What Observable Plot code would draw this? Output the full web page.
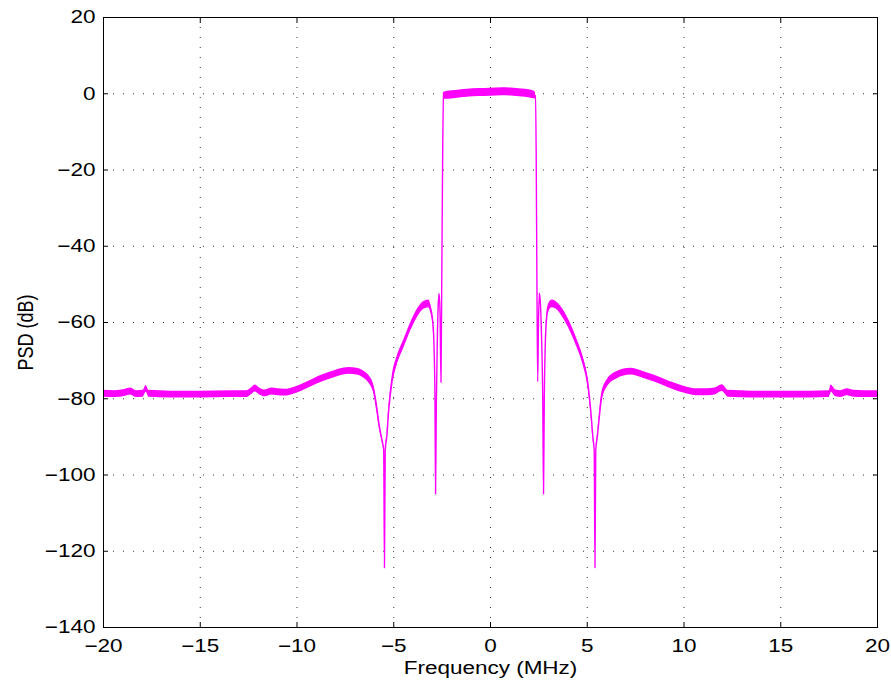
<!DOCTYPE html>
<html>
<head>
<meta charset="utf-8">
<script src="https://cdn.jsdelivr.net/npm/d3@7"></script>
<script src="https://cdn.jsdelivr.net/npm/@observablehq/plot@0.6"></script>
<style>
  html, body { margin: 0; padding: 0; background: #fff; }
  #chart svg { display: block; }
</style>
</head>
<body>
<div id="chart"></div>
<script>
// Power spectral density of the filtered signal, read as centre value and
// peak-to-peak spread (dB) of the noisy estimate at each frequency.
const freqMHz = [
  -20, -19.4, -18.9, -18.6, -18.3, -17.95, -17.8, -17.65, -16.5, -15, -13.5,
  -12.6, -12.35, -12.15, -11.9, -11.65, -11.3, -11.0, -10.6, -10.2, -9.7,
  -9.15, -8.7, -8.27, -7.8, -7.3, -6.9, -6.6, -6.37, -6.2, -6.05, -5.9,
  -5.75, -5.6, -5.52, -5.48, -5.44, -5.36, -5.26, -5.08, -4.82, -4.48, -4.13,
  -3.79, -3.45, -3.19, -3.08, -2.98, -2.92, -2.87, -2.84, -2.8, -2.75,
  -2.69, -2.64, -2.6, -2.56, -2.52, -2.47, -2.43, -2.2, -1.8, -1.2, -0.6, 0,
  0.6, 1.2, 1.8, 2.15, 2.32, 2.36, 2.4, 2.44, 2.48, 2.53, 2.58, 2.64, 2.7,
  2.74, 2.78, 2.83, 2.89, 2.98, 3.19, 3.42, 3.75, 4.1, 4.45, 4.78, 5.02, 5.18,
  5.3, 5.36, 5.4, 5.44, 5.52, 5.62, 5.75, 6.03, 6.55, 7.24, 7.92, 8.4, 8.96,
  9.5, 9.99, 10.68, 11.2, 11.6, 11.97, 12.3, 13.5, 15, 16.5, 17.5, 17.6,
  17.85, 18.1, 18.43, 18.8, 19.3, 20
];
const psdDb = [
  -78.7, -78.8, -78.5, -78.1, -78.8, -78.7, -77.4, -78.7, -78.9, -78.9, -78.8,
  -78.8, -78.0, -77.3, -78.2, -78.6, -78.1, -78.3, -78.4, -78.0, -77.0,
  -75.7, -74.7, -73.9, -73.1, -72.7, -72.9, -73.5, -74.4, -75.5, -77.2, -81.5,
  -87.0, -91.0, -93.5, -124.3, -93.5, -90.0, -83.0, -75.2, -69.9, -65.6, -61.2,
  -57.7, -55.5, -55.1, -56.6, -60.0, -66.0, -80.0, -105.0, -82.0, -65.0,
  -54.5, -52.5, -60.0, -75.7, -50.0, -15.0, -0.6, -0.4, -0.2, 0.1, 0.3, 0.4,
  0.5, 0.4, 0.1, -0.2, -0.5, -15.0, -50.0, -75.5, -60.0, -52.4, -55.0, -64.0, -80.0,
  -105.0, -80.0, -66.0, -59.5, -56.5, -55.1, -55.6, -57.7, -61.0, -65.2, -70.0, -75.5, -83.0,
  -90.5, -93.5, -124.3, -93.5, -90.0, -85.0, -79.5, -76.0, -73.8, -72.9, -73.8, -74.6, -75.7,
  -76.8, -77.6, -78.3, -78.3, -78.1, -77.2, -78.7, -78.9, -78.9, -78.9, -78.8, -77.3,
  -78.6, -78.8, -78.3, -78.7, -78.8, -78.8
];
const spreadDb = [
  1.8, 1.8, 1.8, 1.8, 1.8, 1.8, 1.8, 1.8, 1.8, 1.8, 1.8,
  1.8, 1.8, 1.8, 1.8, 1.8, 1.8, 1.8, 1.8, 1.8, 1.8,
  1.8, 1.8, 1.8, 1.8, 1.8, 1.8, 1.8, 1.9, 2.0, 2.2, 2.2,
  1.5, 0.8, 0, 0, 0, 0.8, 1.5, 2.2, 2.2, 2.2, 2.2,
  2.2, 2.0, 2.0, 2.0, 1.2, 0.6, 0, 0, 0, 0.5,
  0.8, 0.5, 0, 0, 0, 0, 1.8, 2.1, 2.1, 2.1, 2.1, 2.1,
  2.1, 2.1, 2.1, 2.1, 1.8, 0, 0, 0, 0, 0.5, 0.8, 0.5, 0,
  0, 0, 0.6, 1.2, 2.0, 2.0, 2.0, 2.2, 2.2, 2.2, 2.2, 2.2, 1.5,
  0.8, 0, 0, 0, 0.8, 1.5, 2.0, 2.0, 1.9, 1.8, 1.8, 1.8, 1.8,
  1.8, 1.8, 1.8, 1.8, 1.8, 1.8, 1.8, 1.8, 1.8, 1.8, 1.8, 1.8,
  1.8, 1.8, 1.8, 1.8, 1.8, 1.8
];

const xTicks = [-20, -15, -10, -5, 0, 5, 10, 15, 20];
const yTicks = [-140, -120, -100, -80, -60, -40, -20, 0, 20];
const xLabel = "Frequency (MHz)";
const yLabel = "PSD (dB)";

const rows = freqMHz.map((f, i) => ({
  f,
  psd: psdDb[i],
  lo: psdDb[i] - spreadDb[i] / 2,
  hi: psdDb[i] + spreadDb[i] / 2
}));

const magenta = "#ff00ff";
const fmt = d => (d < 0 ? "\u2212" + Math.abs(d) : String(d));
const grid = { stroke: "#000", strokeOpacity: 0.8, strokeDasharray: "1,9" };
const tickOnly = { tickSize: 5, fill: "none", label: null, tickFormat: () => "" };

const chart = Plot.plot({
  width: 891,
  height: 684,
  marginLeft: 103,
  marginRight: 14,
  marginTop: 17,
  marginBottom: 57,
  style: {
    fontFamily: "'Liberation Sans', Arial, Helvetica, sans-serif",
    fontSize: "18px",
    background: "#fff",
    color: "#000"
  },
  x: { domain: [-20, 20], label: null },
  y: { domain: [-140, 20], label: null },
  marks: [
    Plot.gridX(xTicks, grid),
    Plot.gridY(yTicks, grid),
    Plot.areaY(rows, { x: "f", y1: "lo", y2: "hi", fill: magenta, curve: "monotone-x" }),
    Plot.line(rows, { x: "f", y: "psd", stroke: magenta, strokeWidth: 1.4, curve: "monotone-x" }),
    Plot.frame({ stroke: "#000" }),
    // inward-pointing ticks on all four sides
    Plot.axisX(xTicks, { anchor: "bottom", dy: -5, ...tickOnly }),
    Plot.axisX(xTicks, { anchor: "top", dy: 5, ...tickOnly }),
    Plot.axisY(yTicks, { anchor: "left", dx: 5, ...tickOnly }),
    Plot.axisY(yTicks, { anchor: "right", dx: -5, ...tickOnly }),
    // tick labels
    Plot.axisX(xTicks, { anchor: "bottom", tickSize: 0, tickPadding: 12, label: null, tickFormat: fmt }),
    Plot.axisY(yTicks, { anchor: "left", tickSize: 0, tickPadding: 8, label: null, tickFormat: fmt }),
    // axis titles
    Plot.text([xLabel], { frameAnchor: "bottom", dy: 41, lineAnchor: "middle", textAnchor: "middle", text: d => d }),
    Plot.text([yLabel], { frameAnchor: "left", dx: -78, dy: 10, rotate: -90, lineAnchor: "middle", textAnchor: "middle", text: d => d })
  ]
});

document.getElementById("chart").appendChild(chart);

// The figure uses a wide aspect: stretch every glyph horizontally about its anchor.
const stretch = 1.25;
const NS = "http://www.w3.org/2000/svg";
chart.querySelectorAll("text").forEach(t => {
  if (!t.textContent) return;
  const r = t.getBoundingClientRect();
  const anchor = getComputedStyle(t).textAnchor;
  const rotated = (t.getAttribute("transform") || "").includes("rotate");
  let sx = (r.left + r.right) / 2;
  if (!rotated && anchor === "end") sx = r.right;
  else if (!rotated && anchor === "start") sx = r.left;
  const parent = t.parentNode;
  const p = chart.createSVGPoint();
  p.x = sx; p.y = r.top;
  const local = p.matrixTransform(parent.getScreenCTM().inverse());
  const g = document.createElementNS(NS, "g");
  g.setAttribute("transform", `translate(${local.x},0) scale(${stretch},1) translate(${-local.x},0)`);
  parent.insertBefore(g, t);
  g.appendChild(t);
});
</script>
</body>
</html>
